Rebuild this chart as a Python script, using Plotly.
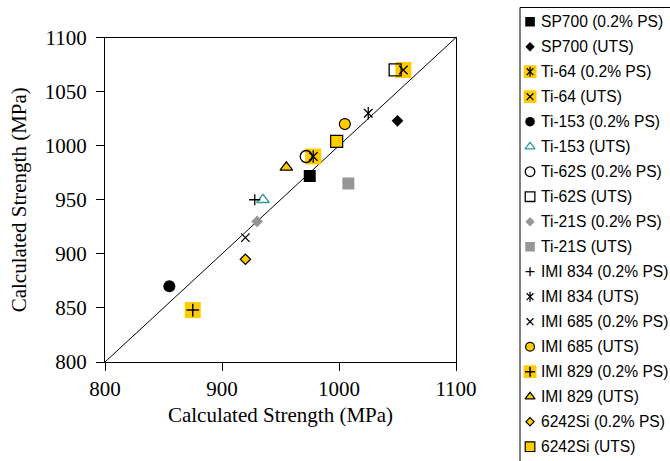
import plotly.graph_objects as go

# ---------------- data ----------------
series_names = [
    "SP700 (0.2% PS)", "SP700 (UTS)",
    "Ti-64 (0.2% PS)", "Ti-64 (UTS)",
    "Ti-153 (0.2% PS)", "Ti-153 (UTS)",
    "Ti-62S (0.2% PS)", "Ti-62S (UTS)",
    "Ti-21S (0.2% PS)", "Ti-21S (UTS)",
    "IMI 834 (0.2% PS)", "IMI 834 (UTS)",
    "IMI 685 (0.2% PS)", "IMI 685 (UTS)",
    "IMI 829 (0.2% PS)", "IMI 829 (UTS)",
    "6242Si (0.2% PS)", "6242Si (UTS)",
]
x_values = [975, 1050, 978, 1055, 855, 935, 972, 1048, 930, 1008,
            928, 1025, 920, 1005, 875, 955, 920, 998]
y_values = [972, 1023, 990, 1070, 870, 950, 990, 1070, 930, 965,
            950, 1030, 915, 1020, 848, 980, 895, 1004]
parity_x = [800, 1100]
parity_y = [800, 1100]
tick_values = [800, 900, 1000, 1100]
ytick_values = [800, 850, 900, 950, 1000, 1050, 1100]
axis_title = "Calculated Strength (MPa)"

# ---------------- styles ----------------
YEL = "#FFCC00"
GRAY = "#969696"
TEAL = "#339999"
BLK = "black"

def L(symbol, size, fill, line=None, lw=0):
    return dict(symbol=symbol, size=size, color=fill,
                line=dict(color=line if line else fill, width=lw))

styles = [
    [L("square", 12, BLK)],
    [L("diamond", 9, BLK)],
    [L("square", 16, YEL), L("x-thin", 8.5, BLK, BLK, 1.3), L("line-ns", 9, BLK, BLK, 1.3)],
    [L("square", 16, YEL), L("x-thin", 8.5, BLK, BLK, 1.3)],
    [L("circle", 12, BLK)],
    [L("triangle-up-open", 11, TEAL, TEAL, 1.3)],
    [L("circle-open", 12, BLK, BLK, 1.3)],
    [L("square-open", 12, BLK, BLK, 1.3)],
    [L("diamond", 9, GRAY)],
    [L("square", 12, GRAY)],
    [L("cross-thin", 8, BLK, BLK, 1.3)],
    [L("x-thin", 8.5, BLK, BLK, 1.3), L("line-ns", 9, BLK, BLK, 1.3)],
    [L("x-thin", 8.5, BLK, BLK, 1.3)],
    [L("circle", 11, YEL, BLK, 1.2)],
    [L("square", 16, YEL), L("cross-thin", 9, BLK, BLK, 1.5)],
    [L("triangle-up", 11, YEL, BLK, 1.2)],
    [L("diamond", 8, YEL, BLK, 1.2)],
    [L("square", 12, YEL, BLK, 1.2)],
]

W, H = 670, 461
fig = go.Figure()

# parity line
fig.add_trace(go.Scatter(x=parity_x, y=parity_y, mode="lines",
                         line=dict(color="black", width=1),
                         showlegend=False, hoverinfo="skip"))

# data markers
for name, xv, yv, layers in zip(series_names, x_values, y_values, styles):
    for m in layers:
        fig.add_trace(go.Scatter(x=[xv], y=[yv], mode="markers", name=name,
                                 legendgroup=name, showlegend=False,
                                 marker=m))

# manual legend (own axes) so the layered swatches can be shown
n = len(series_names)
for i, (name, layers) in enumerate(zip(series_names, styles)):
    for m in layers:
        mm = dict(m)
        mm["size"] = m["size"] * 0.8
        fig.add_trace(go.Scatter(x=[0.067], y=[i], mode="markers", xaxis="x2", yaxis="y2",
                                 marker=mm, showlegend=False, hoverinfo="skip"))
    fig.add_annotation(x=0.128, y=i, xref="x2", yref="y2", text=name,
                       showarrow=False, xanchor="left", yanchor="middle",
                       font=dict(family="Liberation Sans, Arial", size=15.6, color="black"))

row0, rowstep = 21.7, 25.0
top_px = row0 - rowstep / 2
bot_px = row0 + rowstep * (n - 1) + rowstep / 2

fig.add_shape(type="rect", xref="paper", yref="paper",
              x0=520 / W, x1=680 / W, y0=1 - 475 / H, y1=1 - 7.5 / H,
              line=dict(color="black", width=1), fillcolor="rgba(0,0,0,0)")

serif = dict(family="Liberation Serif, Times New Roman", size=21, color="black")

fig.update_layout(
    width=W, height=H,
    margin=dict(l=0, r=0, t=0, b=0),
    paper_bgcolor="white", plot_bgcolor="white",
    showlegend=False,
    xaxis=dict(domain=[105 / W, 456 / W], range=[800, 1100], tickvals=tick_values,
               ticks="outside", ticklen=8, tickcolor="black", tickwidth=1,
               showline=True, linecolor="black", linewidth=1, mirror=True,
               showgrid=False, zeroline=False, tickfont=serif, ticklabelstandoff=0,
               title=dict(text=axis_title, font=serif, standoff=7),
               automargin=False),
    yaxis=dict(domain=[1 - 362 / H, 1 - 37.5 / H], range=[800, 1100], tickvals=ytick_values,
               ticks="outside", ticklen=8, tickcolor="black", tickwidth=1,
               showline=True, linecolor="black", linewidth=1, mirror=True,
               showgrid=False, zeroline=False, tickfont=serif, ticklabelstandoff=5,
               title=dict(text=axis_title, font=serif, standoff=12),
               automargin=False),
    xaxis2=dict(domain=[520 / W, 1], range=[0, 1], visible=False, fixedrange=True),
    yaxis2=dict(domain=[1 - bot_px / H, 1 - top_px / H], range=[n - 0.5, -0.5],
                visible=False, fixedrange=True, anchor="x2"),
)
fig.update_layout(xaxis2_anchor="y2")

fig.write_html("out.html", config={"displayModeBar": False},
               post_script="document.body.style.margin='0';")
